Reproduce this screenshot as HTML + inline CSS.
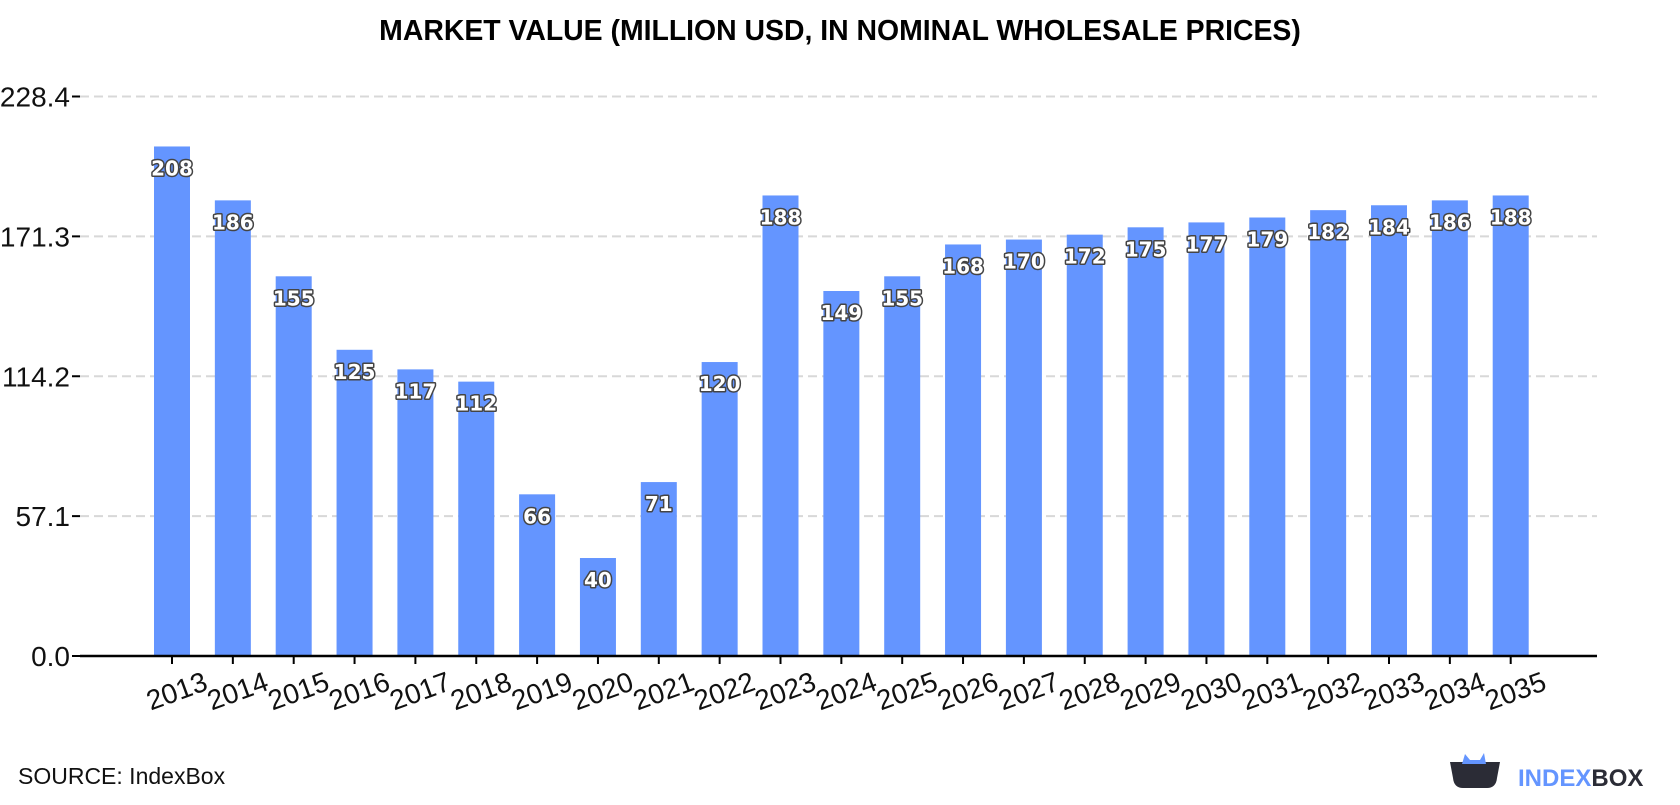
<!DOCTYPE html>
<html><head><meta charset="utf-8"><style>
body{margin:0;background:#fff;width:1680px;height:800px;overflow:hidden;font-family:"Liberation Sans",sans-serif}
</style></head><body>
<svg width="1680" height="800">
<text x="840" y="40" text-anchor="middle" font-size="28.4" font-weight="bold" fill="#000">MARKET VALUE (MILLION USD, IN NOMINAL WHOLESALE PRICES)</text>
<g id="grid"></g><g id="bars"></g><g id="xaxis"></g>
<text x="18" y="784" font-size="23" fill="#111">SOURCE: IndexBox</text>
<g>
<path d="M1450 762 L1500 762 L1497 778 Q1496 788 1487 788 L1463 788 Q1454 788 1453 778 Z" fill="#2b2c36"/>
<path d="M1462 764 L1465 754 L1470 760 L1480 760 L1484 753 L1486 764 Z" fill="#6495ff"/>
<text x="1518" y="786" font-size="24" font-weight="bold" fill="#6495ff">INDEX<tspan fill="#2b2c36">BOX</tspan></text>
</g>
</svg>
<script>
const years=["2013","2014","2015","2016","2017","2018","2019","2020","2021","2022","2023","2024","2025","2026","2027","2028","2029","2030","2031","2032","2033","2034","2035"];
const values=[208,186,155,125,117,112,66,40,71,120,188,149,155,168,170,172,175,177,179,182,184,186,188];
const ticks=[0,57.1,114.2,171.3,228.4];
const NS="http://www.w3.org/2000/svg";
const y0=656,yTop=96.5,yMax=228.4,x0=172,step=60.85,bw=36,axL=80,axR=1597;
const y=v=>y0-(v/yMax)*(y0-yTop);
const x=i=>x0+i*step;
function mk(t,a,p){const e=document.createElementNS(NS,t);for(const k in a)e.setAttribute(k,a[k]);p.appendChild(e);return e;}
const g=document.getElementById('grid'),b=document.getElementById('bars'),xa=document.getElementById('xaxis');
ticks.forEach(t=>{
 if(t>0){const l=mk('line',{x1:axL,x2:axR,y1:y(t),y2:y(t),stroke:'#d8d8d8','stroke-width':2,'stroke-dasharray':'9,5'},g);
 
 }
 const tk=mk('line',{x1:axL-8,x2:axL,y1:y(t),y2:y(t),stroke:'#000','stroke-width':2},g);
 
 
 const tx=mk('text',{x:axL-10,y:y(t)+10,'text-anchor':'end','font-size':28,fill:'#111'},g);tx.textContent=t.toFixed(1);
 
 
});
values.forEach((v,i)=>{
 const r=mk('rect',{x:x(i)-bw/2,y:y(v),width:bw,height:y0-y(v),fill:'#6495ff'},b);
 
 
 const t=mk('text',{x:x(i),y:y(v)+29,'text-anchor':'middle','font-size':20,'font-weight':'bold','font-family':'DejaVu Sans, sans-serif',fill:'#fff',stroke:'#444','stroke-width':3,'paint-order':'stroke','stroke-linejoin':'round'},b);
 t.textContent=v;
 
 
 const tk=mk('line',{x1:x(i),x2:x(i),y1:y0,y2:y0+8,stroke:'#000','stroke-width':2},xa);
 
 
 const yl=mk('text',{x:0,y:0,'text-anchor':'middle','font-size':28,fill:'#111',transform:`translate(${x(i)+8},${y0+44}) rotate(-20)`},xa);
 yl.textContent=years[i];
 
 
});
const ax=mk('line',{x1:axL,x2:axR,y1:y0,y2:y0,stroke:'#000','stroke-width':2.5},xa);


</script>
</body></html>
